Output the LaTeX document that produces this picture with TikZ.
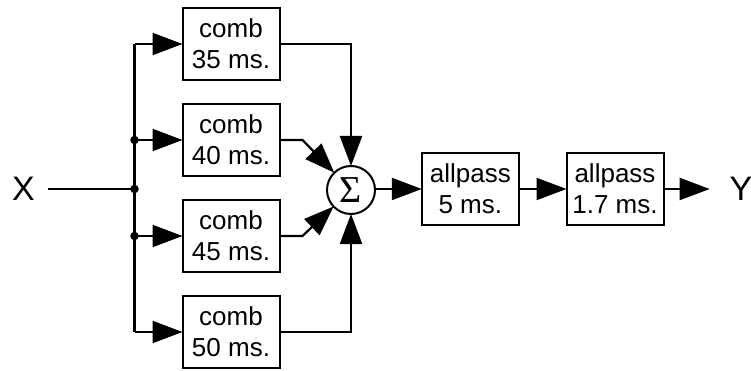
\documentclass[tikz,border=0pt]{standalone}
\usepackage{fontspec}
\setmainfont{Liberation Sans}
\newfontfamily\sigmafont{Liberation Serif}
\usetikzlibrary{arrows.meta}
\begin{document}
\begin{tikzpicture}[x=1pt,y=-1pt,
  blk/.style={draw, line width=2pt, minimum width=97pt, minimum height=72pt, inner sep=0pt, outer sep=0pt, align=center, font=\fontsize{26}{31}\selectfont},
  conn/.style={line width=2.2pt},
  arr/.style={conn, -{Triangle[length=30pt,width=22pt]}},
  lbl/.style={font=\fontsize{34}{40}\selectfont, inner sep=0pt, outer sep=0pt},
  jdot/.style={circle, fill=black, inner sep=0pt, minimum size=8.5pt}]
\useasboundingbox (0,0) rectangle (751,371);
\node[blk] (c35) at (231,44) {comb\\35 ms.};
\node[blk] (c40) at (231,140) {comb\\40 ms.};
\node[blk] (c45) at (231,236) {comb\\45 ms.};
\node[blk] (c50) at (231,332) {comb\\50 ms.};
\node[circle, draw, line width=2pt, minimum size=48pt, inner sep=0pt, outer sep=0pt, font=\sigmafont\fontsize{38}{38}\selectfont] (sum) at (351,190) {\raisebox{-1pt}{Σ}};
\node[blk] (ap1) at (470.3,189) {allpass\\5 ms.};
\node[blk] (ap2) at (615,189) {allpass\\1.7 ms.};
\node[lbl, inner xsep=13pt] (X) at (23.5,189) {X};
\node[lbl, inner xsep=20pt] (Y) at (741,189) {Y};
\coordinate (bx) at (134.5,189);
% input bus
\draw[conn] (X.east) -- (bx);
\draw[conn] (bx |- c35.west) -- (bx |- c50.west);
\draw[arr] (bx |- c35.west) -- (c35.west);
\draw[arr] (bx |- c40.west) -- (c40.west);
\draw[arr] (bx |- c45.west) -- (c45.west);
\draw[arr] (bx |- c50.west) -- (c50.west);
\node[jdot] at (bx |- c40.west) {};
\node[jdot] at (bx) {};
\node[jdot] at (bx |- c45.west) {};
% to summer
\draw[arr] (c35.east) -| (sum);
\draw[arr] (c40.east) -- ++(23,0) -- (sum);
\draw[arr] (c45.east) -- ++(23,0) -- (sum);
\draw[arr] (c50.east) -| (sum);
% output chain
\draw[arr] (sum.east |- ap1.west) -- (ap1.west);
\draw[arr] (ap1.east) -- (ap2.west);
\draw[arr] (ap2.east) -- (Y.west);
\end{tikzpicture}
\end{document}
